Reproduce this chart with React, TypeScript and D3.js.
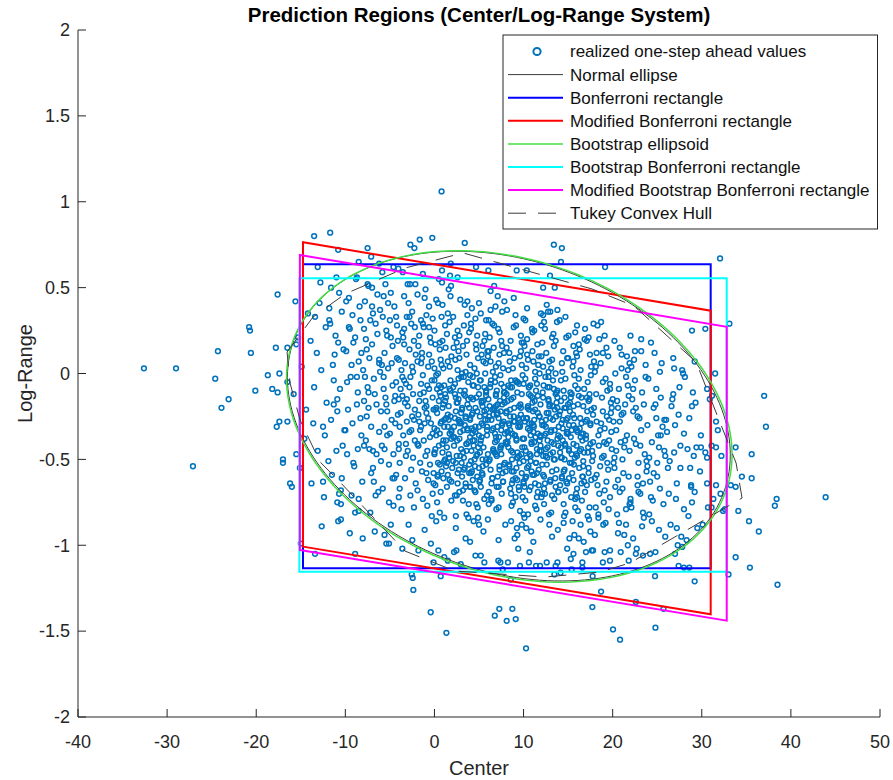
import React from "react";
import * as d3 from "d3";

// ---------- realized one-step ahead values [center, log-range] ----------

// dense cloud, west part (center < 0)
const coreWest: [number, number][] = [
  [-15.3,0.21],[-14.6,-0.38],[-15.8,-0.12],[-14.2,0.35],[-15.1,-0.55],[-14.9,0.04],[-15.6,0.42],[-14.4,-0.21],
  [-13.2,0.12],[-12.5,-0.31],[-13.8,-0.64],[-12.9,0.41],[-13.5,-0.08],[-12.2,0.27],[-13.1,-0.45],[-12.7,0.02],[-13.9,0.19],[-12.4,-0.72],[-13.4,0.33],[-12.1,-0.17],[-13.6,-0.29],[-12.8,0.53],
  [-11.4,0.05],[-10.3,-0.42],[-11.8,0.38],[-10.9,-0.15],[-11.1,0.22],[-10.5,-0.68],[-11.6,-0.27],[-10.2,0.14],[-11.9,-0.51],[-10.7,0.47],[-11.3,-0.04],[-10.1,-0.33],[-11.7,0.29],[-10.8,-0.86],[-11.2,0.11],[-10.4,0.36],[-11.5,-0.59],[-10.6,-0.09],[-11.0,0.56],[-10.9,-0.22],
  [-9.4,-0.02],[-8.3,0.31],[-9.8,-0.47],[-8.7,-0.18],[-9.1,0.18],[-8.1,-0.63],[-9.6,0.44],[-8.5,0.07],[-9.2,-0.29],[-8.9,-0.81],[-9.9,0.13],[-8.2,-0.36],[-9.5,0.26],[-8.6,-0.11],[-9.0,-0.54],[-8.4,0.39],[-9.7,-0.21],[-8.8,0.55],[-9.3,-0.71],[-8.0,0.02],[-9.8,-0.05],[-8.6,-0.44],[-9.2,0.34],[-8.3,-0.26],[-9.5,-0.93],[-8.9,0.21],
  [-7.3,0.09],[-6.2,-0.34],[-7.8,0.42],[-6.7,-0.12],[-7.1,-0.58],[-6.4,0.23],[-7.6,-0.25],[-6.9,0.35],[-7.2,-0.81],[-6.1,0.01],[-7.9,-0.16],[-6.5,-0.47],[-7.4,0.51],[-6.8,-0.03],[-7.0,0.17],[-6.3,-0.69],[-7.7,-0.39],[-6.6,0.29],[-7.5,-0.08],[-6.0,-0.22],[-7.2,0.31],[-6.9,-0.55],[-7.8,-0.02],[-6.4,0.46],[-7.1,-0.31],[-6.7,-0.92],[-7.6,0.14],[-6.2,0.08],[-7.3,-0.44],[-6.5,-0.18],[-7.9,0.26],[-6.8,-0.63],[-7.4,-0.11],[-6.1,0.37],
  [-5.2,0.03],[-4.4,-0.29],[-5.8,0.33],[-4.7,-0.61],[-5.5,-0.14],[-4.1,0.19],[-5.9,-0.42],[-4.9,0.47],[-5.3,-0.22],[-4.3,-0.05],[-5.6,0.12],[-4.6,-0.77],[-5.0,-0.35],[-4.2,0.28],[-5.7,-0.09],[-4.8,0.06],[-5.1,-0.53],[-4.5,0.39],[-5.4,-0.18],[-4.0,-0.41],[-5.8,-0.67],[-4.7,0.16],[-5.2,0.41],[-4.4,-0.13],[-5.6,-0.31],[-4.9,-0.88],[-5.3,0.22],[-4.1,-0.24],[-5.9,0.05],[-4.6,-0.47],[-5.0,0.31],[-4.3,-0.59],[-5.5,0.52],[-4.8,-0.27],[-5.7,-0.02],[-4.2,0.09],[-5.1,-0.99],[-4.5,-0.16],[-5.4,0.25],[-4.0,-0.72],[-5.6,-0.44],[-4.7,-0.07],
  [-2.8,-0.08],[-3.6,0.24],[-2.2,-0.39],[-3.3,-0.17],[-2.5,0.36],[-3.9,-0.52],[-2.1,0.11],[-3.1,-0.28],[-2.7,-0.71],[-3.7,0.02],[-2.4,-0.12],[-3.4,0.45],[-3.0,-0.45],[-3.8,-0.23],[-2.3,0.19],[-3.2,-0.06],[-2.9,-0.88],[-3.5,-0.36],[-2.6,0.29],[-4.0,0.08],[-2.2,-0.21],[-3.3,-0.61],[-2.8,0.14],[-3.6,-0.13],[-2.4,-0.49],[-3.1,0.33],[-2.7,-0.02],[-3.9,-0.31],[-2.1,-0.64],[-3.4,0.17],[-3.0,-0.19],[-3.7,-0.79],[-2.5,0.04],[-3.2,-0.41],[-2.9,0.41],[-3.8,-0.09],[-2.3,-0.27],[-3.5,0.21],[-2.6,-0.56],[-4.0,-0.44],[-2.2,0.27],[-3.3,0.06],[-2.8,-0.34],[-3.6,-1.02],[-2.4,0.01],[-3.1,-0.15],[-3.0,0.52],[-3.9,-0.67],[-2.5,-0.25],[-3.4,-0.04],
  [-1.2,-0.11],[-0.4,0.18],[-1.8,-0.42],[-0.7,-0.26],[-1.5,0.31],[-0.1,-0.58],[-1.9,0.07],[-0.9,-0.19],[-1.3,-0.73],[-0.3,-0.04],[-1.6,-0.33],[-0.6,0.39],[-1.0,-0.48],[-0.2,-0.14],[-1.7,0.22],[-0.8,-0.07],[-1.1,-0.91],[-0.5,-0.37],[-1.4,0.12],[0.0,0.03],[-1.8,-0.24],[-0.7,-0.62],[-1.2,0.27],[-0.4,-0.29],[-1.6,-0.52],[-0.9,0.34],[-1.3,-0.01],[-0.1,-0.21],[-1.9,-0.68],[-0.6,0.11],[-1.0,-0.16],[-0.3,-0.83],[-1.5,-0.06],[-0.8,-0.45],[-1.1,0.44],[-0.2,-0.35],[-1.7,-0.28],[-0.5,0.21],[-1.4,-0.57],[0.0,-0.47],[-1.8,0.16],[-0.7,0.04],[-1.2,-0.39],[-0.4,-0.99],[-1.6,-0.12],[-0.9,-0.23],[-1.0,0.49],[-0.1,-0.64],[-1.5,-0.31],[-0.6,-0.09],[-1.3,0.29],[-0.3,0.07],[-1.9,-0.41],[-0.8,-0.77],[-1.1,-0.2],[-0.5,-0.53],[-1.4,0.09],[-0.2,0.32],
];

// dense cloud, central part (0 <= center < 12)
const coreCentral: [number, number][] = [
  [0.3,-0.23],[1.2,-0.5],[0.7,0.08],[1.8,-0.1],[0.1,-0.65],[1.4,0.23],[0.9,-0.41],[1.6,-0.19],[0.4,0.41],[1.1,-0.31],[0.2,-0.01],[1.9,-0.74],[0.6,0.14],[1.3,-0.14],[0.8,-0.57],[1.7,-0.35],[0.5,0.55],[1.0,0.03],[0.0,-0.46],[1.5,-0.59],[0.3,-0.09],[1.2,0.28],[0.7,-0.69],[1.8,-0.04],[0.1,0.17],[1.4,-0.43],[0.9,-0.2],[1.6,0.49],[0.4,-0.52],[1.1,-0.07],[0.2,-0.36],[1.9,0.1],[0.6,-0.81],[1.3,-0.26],[0.8,0.33],[1.7,-0.62],[0.5,-0.16],[1.0,-0.39],[0.0,0.25],[1.5,0.07],[0.3,-0.75],[1.2,-0.12],[0.7,-0.29],[1.8,0.45],[0.1,-0.21],[1.4,-0.66],[0.9,0.19],[1.6,-0.27],[0.4,0.0],[1.1,-0.84],[0.2,0.43],[1.9,-0.33],[0.6,-0.11],[1.3,-0.54],[0.8,0.05],[1.7,0.3],[0.5,-0.42],[1.0,-0.18],[0.0,-0.04],[1.5,-0.24],[0.35,-0.6],[1.25,0.15],[0.75,-0.08],[1.65,-0.49],
  [3.7,-0.18],[2.8,0.09],[3.3,-0.49],[2.2,-0.31],[3.9,0.24],[2.6,-0.64],[3.1,0.0],[2.4,-0.22],[3.6,-0.82],[2.9,-0.1],[3.8,-0.4],[2.1,0.33],[3.4,-0.55],[2.7,-0.27],[3.2,0.16],[2.3,-0.06],[3.5,-0.96],[3.0,-0.44],[4.0,0.05],[2.5,0.18],[3.7,-0.32],[2.8,-0.69],[3.3,0.28],[2.2,-0.37],[3.9,-0.58],[2.6,0.02],[3.1,-0.21],[2.4,-0.9],[3.6,0.11],[2.9,-0.34],[3.8,-0.05],[2.1,-0.51],[3.4,0.4],[2.7,-0.15],[3.2,-0.74],[2.3,0.21],[3.5,-0.25],[3.0,-0.02],[4.0,-0.66],[2.5,-0.48],[3.7,0.34],[2.8,-0.29],[3.3,-0.12],[2.2,-1.04],[3.9,-0.2],[2.6,0.25],[3.1,-0.6],[2.4,-0.14],[3.6,-0.41],[2.9,0.43],[3.8,-0.84],[2.1,-0.08],[3.4,-0.3],[2.7,0.13],[3.2,-0.46],[2.3,-0.71],[3.5,0.01],[3.0,-0.23],[4.0,-0.37],[2.5,-0.17],[3.65,0.19],[2.75,-0.56],[3.25,-0.33],[2.35,0.08],[3.85,-0.76],[2.55,-0.39],[3.45,-0.13],[2.15,0.15],[3.05,-0.52],[2.85,-0.28],
  [4.6,-0.2],[5.5,0.07],[4.1,-0.51],[5.9,-0.33],[4.8,0.22],[5.2,-0.66],[4.3,-0.02],[5.7,-0.24],[4.9,-0.84],[5.0,-0.12],[4.4,-0.42],[5.8,0.31],[4.2,-0.57],[5.3,-0.29],[4.7,0.14],[5.6,-0.08],[4.0,-0.98],[5.1,-0.46],[4.5,0.03],[5.4,0.16],[4.6,-0.34],[5.9,-0.71],[4.1,0.26],[5.2,-0.39],[4.8,-0.6],[5.7,0.0],[4.3,-0.23],[5.5,-0.92],[4.9,0.09],[5.0,-0.36],[4.4,-0.07],[5.8,-0.53],[4.2,0.38],[5.3,-0.17],[4.7,-0.76],[5.6,0.19],[4.0,-0.27],[5.1,-0.04],[4.5,-0.68],[5.4,-0.5],[4.6,0.32],[5.9,-0.31],[4.1,-0.14],[5.2,-1.06],[4.8,-0.22],[5.7,0.23],[4.3,-0.62],[5.5,-0.16],[4.9,-0.43],[5.0,0.41],[4.4,-0.86],[5.8,-0.1],[4.2,-0.32],[5.3,0.11],[4.7,-0.48],[5.6,-0.73],[4.0,-0.01],[5.1,-0.25],[4.5,-0.39],[5.4,-0.19],[4.65,0.17],[5.35,-0.58],[4.25,-0.35],[5.75,0.06],[4.85,-0.78],[5.15,-0.41],[4.35,-0.15],[5.95,0.13],[4.55,-0.54],[5.45,-0.3],[4.15,-0.45],[5.85,-0.21],[4.75,0.0],[5.05,-0.63],
  [6.4,-0.27],[7.3,-0.54],[6.9,0.04],[7.8,-0.14],[6.1,-0.69],[7.5,0.19],[6.6,-0.45],[7.1,-0.23],[6.3,0.37],[7.9,-0.35],[6.8,-0.05],[7.2,-0.78],[6.0,0.1],[7.6,-0.18],[6.5,-0.61],[7.0,-0.39],[6.7,0.51],[7.4,-0.01],[6.2,-0.5],[7.7,-0.63],[6.9,-0.13],[7.3,0.24],[6.4,-0.73],[7.8,-0.08],[6.1,0.13],[7.5,-0.47],[6.6,-0.24],[7.1,0.45],[6.3,-0.56],[7.9,-0.11],[6.8,-0.4],[7.2,0.06],[6.0,-0.85],[7.6,-0.3],[6.5,0.29],[7.0,-0.66],[6.7,-0.2],[7.4,-0.43],[6.2,0.21],[7.7,0.03],[6.95,-0.79],[7.35,-0.16],[6.45,-0.33],[7.85,0.42],[6.15,-0.25],[7.55,-0.7],[6.65,0.15],[7.05,-0.31],[6.35,-0.04],[7.95,-0.88],[6.85,0.39],[7.25,-0.37],[6.05,-0.15],[7.65,-0.58],[6.55,0.01],[7.15,0.26],[6.75,-0.46],[7.45,-0.22],[6.25,-0.08],[7.75,-0.28],[6.4,-0.64],[7.3,0.11],[6.9,-0.12],[7.8,-0.53],[6.1,0.31],[7.5,-0.06],[6.6,-0.32],[7.1,-0.6],[6.3,0.07],[7.9,-0.17],[6.8,-0.02],[7.2,-0.26],[6.0,-0.47],[7.6,0.16],[6.5,-0.21],[7.0,-0.1],
  [9.7,-0.24],[8.8,0.03],[9.2,-0.55],[8.3,-0.37],[10.0,0.18],[8.6,-0.7],[9.5,-0.06],[9.0,-0.28],[9.8,-0.88],[8.2,-0.16],[9.3,-0.46],[8.9,0.27],[9.1,-0.61],[8.5,-0.33],[9.6,0.1],[8.1,-0.12],[9.4,-1.02],[8.7,-0.5],[9.9,-0.01],[8.4,0.12],[9.2,-0.38],[8.8,-0.75],[9.7,0.22],[8.3,-0.43],[10.0,-0.64],[8.6,-0.04],[9.5,-0.27],[9.0,-0.96],[9.8,0.05],[8.2,-0.4],[9.3,-0.11],[8.9,-0.57],[9.1,0.34],[8.5,-0.21],[9.6,-0.8],[8.1,0.15],[9.4,-0.31],[8.7,-0.08],[9.9,-0.72],[8.4,-0.54],[9.15,0.28],[8.75,-0.35],[9.65,-0.18],[8.25,-1.1],[9.95,-0.26],[8.55,0.19],[9.45,-0.66],[8.95,-0.2],[9.75,-0.47],[8.15,0.37],[9.25,-0.9],[8.85,-0.14],[9.05,-0.36],[8.45,0.07],[9.55,-0.52],[8.65,-0.77],[9.35,-0.05],[8.35,-0.29],[9.85,-0.43],[8.05,-0.23],[9.7,0.13],[8.8,-0.62],[9.2,-0.39],[8.3,0.02],[10.0,-0.82],[8.6,-0.45],[9.5,-0.19],[9.0,0.09],[9.8,-0.58],[8.2,-0.34],[9.3,-0.49],[8.9,-0.25],[9.1,-0.04],[8.5,-0.67],[9.6,-0.3],[8.1,-0.41],
  [10.4,-0.26],[11.3,0.01],[10.9,-0.57],[11.8,-0.39],[10.1,0.16],[11.5,-0.72],[10.6,-0.08],[11.1,-0.3],[10.3,-0.9],[11.9,-0.18],[10.8,-0.48],[11.2,0.25],[10.0,-0.63],[11.6,-0.35],[10.5,0.08],[11.0,-0.14],[10.7,-1.04],[11.4,-0.52],[10.2,-0.03],[11.7,0.1],[10.9,-0.4],[11.3,-0.77],[10.4,0.2],[11.8,-0.45],[10.1,-0.66],[11.5,-0.06],[10.6,-0.29],[11.1,-0.98],[10.3,0.03],[11.9,-0.42],[10.8,-0.13],[11.2,-0.59],[10.0,0.32],[11.6,-0.23],[10.5,-0.82],[11.0,0.13],[10.7,-0.33],[11.4,-0.1],[10.2,-0.74],[11.7,-0.56],[10.95,0.26],[11.35,-0.37],[10.45,-0.2],[11.85,-1.12],[10.15,-0.28],[11.55,0.17],[10.65,-0.68],[11.05,-0.22],[10.35,-0.49],[11.95,0.35],[10.85,-0.92],[11.25,-0.16],[10.05,-0.38],[11.65,0.05],[10.55,-0.54],[11.45,-0.79],[10.75,-0.07],[11.15,-0.31],[10.25,-0.45],[11.75,-0.25],[10.4,0.11],[11.3,-0.64],[10.9,-0.41],[11.8,0.0],[10.1,-0.84],[11.5,-0.47],[10.6,-0.21],[11.1,0.07],[10.3,-0.6],[11.9,-0.36],[10.8,-0.51],[11.2,-0.27],[10.0,-0.06],[11.6,-0.69],
];

// densest part of the cloud
const coreInner: [number, number][] = [
  [0.6,-0.35],[2.3,-0.12],[4.1,-0.58],[5.7,-0.27],[7.4,-0.44],[9.2,-0.05],[10.8,-0.66],[12.5,-0.31],[14.3,-0.49],[16.1,-0.18],
  [1.4,-0.52],[3.0,-0.29],[4.9,-0.08],[6.5,-0.61],[8.1,-0.22],[9.9,-0.38],[11.6,-0.13],[13.2,-0.71],[15.0,-0.35],[17.3,-0.55],
  [0.2,-0.2],[1.9,-0.63],[3.6,-0.41],[5.3,-0.16],[6.9,-0.37],[8.7,-0.57],[10.3,-0.26],[12.0,-0.45],[13.8,-0.1],[15.6,-0.62],
  [0.9,-0.46],[2.7,-0.03],[4.4,-0.33],[6.1,-0.51],[7.8,-0.11],[9.5,-0.68],[11.1,-0.34],[12.9,-0.19],[14.7,-0.42],[16.5,-0.29],
  [1.1,-0.27],[2.9,-0.48],[4.6,-0.69],[6.3,-0.06],[8.0,-0.4],[9.7,-0.2],[11.4,-0.52],[13.1,-0.33],[14.9,-0.64],[16.8,-0.09],
  [0.4,-0.59],[2.1,-0.37],[3.8,-0.15],[5.5,-0.43],[7.2,-0.66],[8.9,-0.28],[10.6,-0.08],[12.3,-0.6],[14.0,-0.24],[15.9,-0.47],
  [1.7,-0.09],[3.3,-0.56],[5.0,-0.31],[6.7,-0.21],[8.4,-0.53],[10.1,-0.43],[11.8,-0.25],[13.5,-0.5],[15.3,-0.14],[17.0,-0.38],
  [0.7,-0.13],[2.5,-0.71],[4.2,-0.24],[5.9,-0.36],[7.6,-0.29],[9.3,-0.62],[11.0,-0.17],[12.7,-0.39],[14.5,-0.57],[16.3,-0.45],
  [1.3,-0.39],[3.1,-0.2],[4.8,-0.47],[6.4,-0.74],[8.2,-0.34],[9.8,-0.12],[11.5,-0.58],[13.3,-0.27],[15.1,-0.3],[17.6,-0.21],
  [0.1,-0.44],[1.8,-0.25],[3.5,-0.64],[5.2,-0.04],[7.0,-0.48],[8.6,-0.15],[10.4,-0.55],[12.1,-0.3],[13.9,-0.69],[15.7,-0.26],
  [2.0,-0.55],[3.7,-0.33],[5.4,-0.59],[7.1,-0.18],[8.8,-0.46],[10.5,-0.32],[12.2,-0.14],[14.1,-0.37],[15.8,-0.73],[17.5,-0.3],
  [0.5,-0.07],[2.2,-0.42],[3.9,-0.53],[5.6,-0.22],[7.3,-0.56],[9.0,-0.36],[10.7,-0.47],[12.4,-0.7],[14.2,-0.16],[16.0,-0.33],
  [1.0,-0.61],[2.6,-0.17],[4.3,-0.39],[6.0,-0.27],[7.7,-0.63],[9.4,-0.26],[11.2,-0.4],[12.8,-0.23],[14.6,-0.5],[16.6,-0.6],
  [1.5,-0.31],[3.2,-0.68],[4.7,-0.14],[6.6,-0.44],[8.3,-0.07],[10.0,-0.51],[11.7,-0.65],[13.4,-0.41],[15.2,-0.22],[17.2,-0.46],
  [0.8,-0.28],[2.4,-0.52],[4.0,-0.26],[5.8,-0.5],[7.5,-0.33],[9.1,-0.72],[10.9,-0.29],[12.6,-0.53],[14.4,-0.32],[16.2,-0.13],
  [1.6,-0.47],[3.4,-0.1],[5.1,-0.62],[6.8,-0.35],[8.5,-0.25],[10.2,-0.61],[11.9,-0.37],[13.6,-0.12],[15.4,-0.52],[17.8,-0.4],
  [0.3,-0.33],[2.8,-0.38],[4.5,-0.5],[6.2,-0.19],[7.9,-0.52],[9.6,-0.31],[11.3,-0.21],[13.0,-0.62],[14.8,-0.27],[16.7,-0.51],
  [1.2,-0.16],[3.6,-0.45],[5.3,-0.37],[7.0,-0.24],[8.7,-0.64],[10.5,-0.19],[12.2,-0.48],[13.9,-0.36],[15.6,-0.41],[17.4,-0.15],
  [2.3,-0.26],[4.0,-0.66],[5.8,-0.11],[7.5,-0.42],[9.3,-0.49],[11.0,-0.59],[12.9,-0.08],[14.6,-0.2],[16.4,-0.37],[0.6,-0.53],
  [1.9,-0.34],[3.5,-0.26],[5.0,-0.55],[6.9,-0.47],[8.4,-0.3],[10.8,-0.36],[12.5,-0.44],[14.3,-0.61],[16.0,-0.48],[17.1,-0.27],
];

// broad spread across the cloud
const coreOuter: [number, number][] = [
  [-11.3,-0.18],[-9.6,0.27],[-7.9,-0.42],[-6.2,0.06],[-4.5,-0.61],[-2.8,0.33],[-1.1,-0.29],[0.6,0.18],[2.4,-0.83],[4.1,0.29],[5.8,-0.13],[7.6,0.36],[9.3,-0.94],[11.0,0.24],[12.8,-0.02],[14.5,-0.87],[16.2,0.17],[18.0,-0.61],[19.7,-0.09],[21.5,-0.79],[23.2,-0.33],[25.0,-0.6],[26.8,-0.12],[28.5,-0.83],
  [-10.4,-0.61],[-8.7,-0.02],[-7.0,0.39],[-5.3,-0.36],[-3.6,-0.02],[-1.9,0.46],[-0.2,-0.7],[1.5,0.35],[3.3,-0.02],[5.0,-0.88],[6.7,0.28],[8.5,-0.08],[10.2,0.31],[11.9,-0.85],[13.6,0.19],[15.4,-0.47],[17.1,-0.14],[18.9,0.12],[20.6,-0.93],[22.3,-0.22],[24.1,-0.49],[25.9,-0.95],[27.6,-0.55],
  [-11.8,0.31],[-10.0,-0.33],[-8.2,0.12],[-6.6,-0.71],[-4.9,0.21],[-3.2,-0.48],[-1.5,0.06],[0.2,-0.86],[1.9,-0.38],[3.7,0.42],[5.4,-0.54],[7.2,-0.97],[8.9,0.44],[10.6,-0.12],[12.3,0.3],[14.1,-0.65],[15.8,0.24],[17.5,-0.92],[19.3,-0.41],[21.0,0.11],[22.8,-0.65],[24.6,-0.2],[26.3,-0.7],[28.0,-0.35],
  [-9.1,-0.52],[-7.4,-0.2],[-5.7,0.45],[-4.0,-0.15],[-2.3,-0.78],[-0.6,0.27],[1.1,-0.51],[2.8,0.22],[4.6,-0.31],[6.3,0.48],[8.0,-0.57],[9.8,0.18],[11.5,-0.44],[13.2,-0.95],[14.9,0.09],[16.7,-0.35],[18.4,-0.84],[20.2,0.19],[21.9,-0.45],[23.7,0.05],[25.4,-0.36],[27.2,-0.9],[29.0,-0.11],
  [-12.3,-0.36],[-10.8,0.18],[-9.9,0.42],[-8.5,-0.8],[-6.9,-0.45],[-5.1,-0.75],[-3.4,0.26],[-1.7,-0.16],[0.0,-0.32],[1.7,0.04],[3.5,-0.66],[5.2,0.35],[6.9,-0.19],[8.6,-0.86],[10.4,0.38],[12.1,-0.7],[13.8,0.37],[15.6,-0.19],[17.3,0.21],[19.1,-0.68],[20.8,-0.28],[22.5,0.13],[24.3,-0.72],[26.0,-0.27],[27.8,0.02],
  [-11.0,-0.45],[-9.3,0.05],[-7.7,0.2],[-6.0,-0.51],[-4.3,0.33],[-2.6,-0.33],[-0.9,-0.58],[0.9,0.4],[2.6,-0.58],[4.3,-0.07],[6.1,-0.76],[7.8,0.12],[9.5,-0.48],[11.3,-0.03],[13.0,-0.47],[14.7,0.33],[16.5,-0.64],[18.2,-0.28],[20.0,-0.15],[21.7,0.02],[23.4,-0.81],[25.2,-0.43],[26.9,0.03],[28.7,-0.55],
];

// dense cloud, east part (center >= 12)
const coreEast: [number, number][] = [
  [12.3,-0.3],[13.2,-0.57],[12.8,0.01],[13.7,-0.17],[12.0,-0.72],[13.4,0.16],[12.5,-0.48],[13.0,-0.26],[12.2,0.34],[13.8,-0.38],[12.7,-0.08],[13.1,-0.81],[12.9,0.07],[13.5,-0.21],[12.4,-0.64],[13.9,-0.42],[12.6,0.4],[13.3,-0.04],[12.1,-0.53],[13.6,-0.66],[12.8,-0.16],[13.2,0.21],[12.3,-0.76],[13.7,-0.11],[12.0,0.1],[13.4,-0.5],[12.5,-0.27],[13.0,0.36],[12.2,-0.59],[13.8,-0.14],[12.7,-0.43],[13.1,0.03],[12.9,-0.88],[13.5,-0.33],[12.4,0.26],[13.9,-0.69],[12.6,-0.23],[13.3,-0.46],[12.1,0.18],[13.6,0.0],[12.85,-0.82],[13.25,-0.19],[12.35,-0.36],[13.75,0.3],[12.05,-0.28],[13.45,-0.73],[12.55,0.12],[13.05,-0.34],[12.25,-0.07],[13.85,-0.91],[12.75,0.36],[13.15,-0.4],[12.95,-0.18],[13.55,-0.61],[12.45,-0.02],[13.35,0.23],[12.65,-0.49],[13.65,-0.25],[12.15,-0.11],[13.95,-0.31],[12.3,-0.67],[13.2,0.08],[12.8,-0.15],[13.7,-0.56],[12.0,0.28],[13.4,-0.09],[12.5,-0.35],[13.0,-0.63],[12.2,0.04],[13.8,-0.2],
  [15.6,-0.3],[14.7,-0.03],[15.1,-0.61],[14.2,-0.43],[15.9,0.12],[14.5,-0.76],[15.4,-0.12],[14.9,-0.34],[15.7,-0.94],[14.1,-0.22],[15.2,-0.52],[14.8,0.21],[16.0,-0.67],[14.4,-0.39],[15.5,0.04],[15.0,-0.18],[15.3,-1.08],[14.6,-0.56],[15.8,-0.07],[14.3,0.06],[15.1,-0.44],[14.7,-0.81],[15.6,0.16],[14.2,-0.49],[15.9,-0.7],[14.5,-0.1],[15.4,-0.33],[14.9,-1.02],[15.7,-0.01],[14.1,-0.46],[15.2,-0.17],[14.8,-0.63],[16.0,0.28],[14.4,-0.27],[15.5,-0.86],[15.0,0.09],[15.3,-0.37],[14.6,-0.14],[15.8,-0.78],[14.3,-0.6],[15.05,0.22],[14.65,-0.41],[15.55,-0.24],[14.15,-1.16],[15.85,-0.32],[14.45,0.13],[15.35,-0.72],[14.95,-0.26],[15.65,-0.53],[14.05,0.31],[15.15,-0.96],[14.75,-0.2],[15.95,-0.42],[14.35,0.01],[15.45,-0.58],[14.55,-0.83],[15.25,-0.11],[14.85,-0.35],[15.75,-0.49],[14.25,-0.29],[15.6,0.07],[14.7,-0.68],[15.1,-0.45],[14.2,-0.04],
  [16.3,-0.32],[17.2,-0.05],[16.8,-0.63],[17.7,-0.45],[16.0,0.1],[17.4,-0.78],[16.5,-0.14],[17.0,-0.36],[16.2,-0.96],[17.8,-0.24],[16.7,-0.54],[17.1,0.19],[16.9,-0.69],[17.5,-0.41],[16.4,0.02],[17.9,-0.2],[16.6,-1.1],[17.3,-0.58],[16.1,-0.09],[17.6,0.04],[16.8,-0.46],[17.2,-0.83],[16.3,0.14],[17.7,-0.51],[16.0,-0.72],[17.4,-0.12],[16.5,-0.35],[17.0,-1.04],[16.2,-0.03],[17.8,-0.48],[16.7,-0.19],[17.1,-0.65],[16.9,0.26],[17.5,-0.29],[16.4,-0.88],[17.9,0.07],[16.6,-0.39],[17.3,-0.16],[16.1,-0.8],[17.6,-0.62],[16.85,0.2],[17.25,-0.43],[16.35,-0.26],[17.75,-1.18],[16.05,-0.34],[17.45,0.11],[16.55,-0.74],[16.95,-0.28],[16.25,-0.55],[17.85,0.29],[16.75,-0.98],[17.15,-0.22],[16.45,-0.44],[17.55,-0.01],[16.65,-0.6],[17.35,-0.85],
  [18.4,-0.36],[19.3,-0.63],[18.9,-0.05],[19.8,-0.23],[18.1,-0.78],[19.5,0.1],[18.6,-0.54],[19.1,-0.32],[18.3,0.28],[19.9,-0.44],[18.8,-0.14],[19.2,-0.87],[18.0,0.01],[19.6,-0.27],[18.5,-0.7],[19.0,-0.48],[18.7,0.3],[19.4,-0.1],[18.2,-0.59],[19.7,-0.72],[18.9,-0.22],[19.3,0.15],[18.4,-0.82],[19.8,-0.17],[18.1,0.04],[19.5,-0.56],[18.6,-0.33],[19.1,0.22],[18.3,-0.65],[19.9,-0.2],[18.8,-0.49],[19.2,-0.03],[18.0,-0.94],[19.6,-0.39],[18.5,0.2],[19.0,-0.75],[18.7,-0.29],[19.4,-0.52],[18.2,0.12],[19.7,-0.06],[18.95,-0.88],[19.35,-0.25],[18.45,-0.42],[19.85,-0.34],[18.15,-0.12],[19.55,-0.79],[18.65,0.06],[19.05,-0.4],
  [21.6,-0.36],[20.7,-0.09],[21.1,-0.67],[20.2,-0.49],[21.9,0.06],[20.5,-0.82],[21.4,-0.18],[20.9,-0.4],[21.7,-1.0],[20.1,-0.28],[21.2,-0.58],[20.8,0.15],[22.0,-0.73],[20.4,-0.45],[21.5,-0.02],[21.0,-0.24],[21.3,-0.94],[20.6,-0.62],[21.8,-0.13],[20.3,0.0],[21.1,-0.5],[20.7,-0.87],[21.6,0.1],[20.2,-0.55],[21.9,-0.76],[20.5,-0.16],[21.4,-0.39],[20.9,-1.04],[21.7,-0.07],[20.1,-0.52],[21.2,-0.23],[20.8,-0.69],[22.0,0.22],[20.4,-0.33],[21.5,-0.88],[21.0,0.03],[21.3,-0.43],[20.6,-0.2],[21.8,-0.6],[20.3,-0.66],
  [22.4,-0.38],[23.3,-0.11],[22.9,-0.69],[23.8,-0.51],[22.1,0.04],[23.5,-0.84],[22.6,-0.2],[23.1,-0.42],[22.3,-0.96],[23.9,-0.3],[22.8,-0.6],[23.2,0.13],[22.0,-0.75],[23.6,-0.47],[22.5,-0.04],[23.0,-0.26],[22.7,-1.02],[23.4,-0.64],[22.2,-0.15],[23.7,-0.02],[22.9,-0.52],[23.3,-0.89],[22.4,0.08],[23.8,-0.57],[22.1,-0.78],[23.5,-0.18],[22.6,-0.41],[23.1,-0.7],[22.3,-0.09],[23.9,-0.54],[22.8,-0.25],[23.2,0.2],
  [24.4,-0.4],[25.3,-0.67],[24.9,-0.09],[25.8,-0.27],[24.1,-0.82],[25.5,0.06],[24.6,-0.58],[25.1,-0.36],[24.3,0.18],[25.9,-0.48],[24.8,-0.18],[25.2,-0.91],[24.0,-0.03],[25.6,-0.31],[24.5,-0.74],[25.0,-0.52],[24.7,0.12],[25.4,-0.14],[24.2,-0.63],[25.7,-0.76],[24.9,-0.26],[25.3,0.01],[24.4,-0.86],[25.8,-0.45],
  [27.6,-0.42],[26.7,-0.15],[27.1,-0.73],[26.2,-0.55],[27.9,0.0],[26.5,-0.88],[27.4,-0.24],[26.9,-0.46],[27.7,-0.95],[26.1,-0.34],[27.2,-0.64],[26.8,0.09],[28.0,-0.79],[26.4,-0.51],[27.5,-0.08],[27.0,-0.3],[27.3,-1.0],[26.6,-0.19],
  [28.4,-0.44],[29.3,-0.17],[28.9,-0.75],[29.8,-0.57],[28.1,-0.02],[29.5,-0.9],[28.6,-0.26],[29.1,-0.48],[28.3,-0.97],[29.9,-0.36],[28.8,-0.66],[29.2,0.07],
  [30.4,-0.46],[31.3,-0.73],[30.9,-0.15],[31.8,-0.33],[30.1,-0.88],[31.5,0.0],[30.6,-0.64],[31.1,-0.42],
];

// scattered values west of the cloud
const tailWest: [number, number][] = [
  [-32.6,0.03],[-29.0,0.03],[-24.3,0.13],[-20.8,0.27],[-20.7,0.25],[-20.6,0.12],[-17.8,0.15],[-16.5,0.15],
  [-24.6,-0.03],[-23.1,-0.15],[-23.9,-0.2],[-20.1,-0.1],[-18.7,-0.01],[-17.4,0.0],[-18.2,-0.09],[-17.6,-0.11],
  [-16.5,-0.05],[-17.4,-0.28],[-16.5,-0.28],[-17.7,-0.31],[-15.5,-0.47],[-17.0,-0.5],[-17.0,-0.52],[-27.1,-0.54],
  [-16.2,-0.64],[-16.0,-0.66],[-15.5,0.17],[-17.6,0.46],
  [-12.65,-0.89],[-10.5,-0.85],[-10.7,-0.7],[-10.9,-0.75],[-10.5,-0.76],[-8.5,-0.73],[-15.0,-0.99],[-12.5,-0.63],
];

// scattered values above the cloud
const tailNorth: [number, number][] = [
  [0.8,1.06],[-13.5,0.8],[-11.7,0.82],[-10.8,0.72],[-7.5,0.73],[-7.1,0.68],[-8.5,0.65],[-13.1,0.62],
  [-2.7,0.75],[-2.25,0.73],[-1.65,0.78],[-0.24,0.79],[3.4,0.76],[13.4,0.75],[14.3,0.73],[14.2,0.65],
  [19.15,0.62],[32.05,0.67],[-4.6,0.62],[-4.05,0.61],[-5.85,0.59],[-8.7,0.56],[-6.2,0.64],[-3.55,0.59],
  [-1.3,0.58],[0.85,0.6],[1.83,0.64],[1.75,0.57],[2.6,0.56],[4.67,0.62],[6.05,0.6],[9.23,0.6],
  [10.36,0.6],[12.97,0.57],[-2.74,0.52],[-2.14,0.52],[0.85,0.53],[1.86,0.51],[-11.6,0.5],[-7.0,0.5],
  [-7.5,0.52],[12.2,0.5],[13.5,0.5],
];

// scattered values below the cloud
const tailSouth: [number, number][] = [
  [-8.05,-0.96],[-5.6,-0.94],[-5.4,-0.99],[-2.48,-0.97],[-8.9,-1.05],[-13.4,-1.05],[-2.55,-1.17],[-2.44,-1.19],
  [-2.37,-1.26],[0.7,-1.18],[-0.42,-1.39],[1.34,-1.51],[7.28,-1.37],[8.74,-1.37],[6.77,-1.41],[8.11,-1.44],
  [9.12,-1.43],[10.28,-1.6],[18.7,-1.27],[17.72,-1.36],[22.6,-1.33],[20.04,-1.49],[20.83,-1.55],[24.8,-1.48],
  [29.2,-1.21],[24.75,-1.18],[25.7,-1.37],[27.4,-1.12],[28.0,-1.13],[28.6,-1.13],[33.8,-1.07],[35.4,-1.13],
  [33.0,-1.17],[27.0,-1.05],[27.8,-1.01],[22.6,-1.05],[23.4,-1.06],[24.2,-1.05],[24.8,-1.04],[17.8,-1.03],
  [19.1,-1.04],[19.7,-1.03],[19.7,-1.09],[18.9,-1.1],[21.8,-1.09],[16.6,-1.13],[15.4,-1.14],[9.6,-1.12],
  [10.6,-1.1],[11.4,-1.12],[12.6,-1.1],[13.6,-1.12],[13.8,-1.1],[7.66,-1.14],[7.4,-1.1],[7.17,-1.09],
  [5.6,-1.1],[4.6,-1.06],[2.95,-1.11],[1.5,-1.09],[1.1,-1.07],[-0.1,-1.1],[0.44,-1.03],[2.46,-1.03],
  [-1.8,-1.03],[15.6,-1.05],[17.65,-1.03],[8.56,-1.2],[13.46,-1.17],
];

// scattered values east of the cloud
const tailEast: [number, number][] = [
  [33.1,0.29],[28.9,0.25],[30.4,0.26],[37.0,-0.13],[37.2,-0.31],[35.6,-0.47],[33.8,-0.43],[35.6,-0.61],
  [34.5,-0.6],[33.8,-0.66],[33.25,-0.65],[38.4,-0.73],[38.2,-0.77],[43.9,-0.72],[34.1,-0.8],[32.4,-0.8],
  [35.3,-0.86],[36.4,-0.92],[38.5,-1.23],[32.2,-0.48],[31.6,-0.43],[29.4,-0.43],[29.9,-0.43],[30.6,-0.49],
  [31.6,-0.65],[29.2,-0.69],[28.8,-0.65],[32.1,-0.7],[30.7,-0.78],[31.1,-0.78],[32.6,-0.79],[31.6,-0.28],
  [28.9,-0.19],[31.15,-0.13],[30.6,-0.09],
];

// ---------- prediction regions ----------

// ellipses: center, horizontal / vertical half-extent, correlation
const normalEllipse = { cx: 8.35, cy: -0.248, rx: 24.85, ry: 0.96, rho: -0.235 };
const bootstrapEllipse = { cx: 8.4, cy: -0.25, rx: 25.0, ry: 0.965, rho: -0.23 };

const bonferroniRect: [number, number][] = [[-14.75, -1.134], [31.0, -1.134], [31.0, 0.636], [-14.75, 0.636]];
const modifiedBonferroni: [number, number][] = [[-14.75, -1.008], [31.0, -1.402], [31.0, 0.366], [-14.75, 0.764]];
const bootstrapBonferroniRect: [number, number][] = [[-15.16, -1.154], [32.8, -1.154], [32.8, 0.554], [-15.16, 0.554]];
const modifiedBootstrapBonferroni: [number, number][] = [[-15.1, -1.028], [32.8, -1.439], [32.8, 0.272], [-15.1, 0.69]];

const tukeyHull: [number, number][] = [
  [-16.54, 0.125], [-13.62, 0.329], [-10.03, 0.463], [-3.3, 0.614], [3.21, 0.702], [17.69, 0.492],
  [22.4, 0.393], [29.36, 0.067], [33.85, -0.521], [34.52, -0.725], [21.95, -1.103], [18.58, -1.156],
  [12.41, -1.185], [2.31, -1.15], [1.19, -1.127], [-3.3, -1.034], [-10.93, -0.614], [-12.84, -0.515],
  [-15.08, -0.271], [-16.21, -0.055],
];

// ---------- axes & text ----------
const xTicks = [-40, -30, -20, -10, 0, 10, 20, 30, 40, 50];
const yTicks = [-2, -1.5, -1, -0.5, 0, 0.5, 1, 1.5, 2];
const legendLabels = [
  "realized one-step ahead values",
  "Normal ellipse",
  "Bonferroni rectangle",
  "Modified Bonferroni rectangle",
  "Bootstrap ellipsoid",
  "Bootstrap Bonferroni rectangle",
  "Modified Bootstrap Bonferroni rectangle",
  "Tukey Convex Hull",
];

const W = 893;
const H = 780;
const plot = { left: 78, right: 880, top: 30, bottom: 717 };
const FONT = "'Liberation Sans', Arial, Helvetica, sans-serif";
const AXIS = "#262626";
const DOT = "#0072BD";

const styles = {
  normal: { stroke: "#3c3c3c", width: 1, dash: undefined as string | undefined },
  bonf: { stroke: "#0000ff", width: 2, dash: undefined },
  modBonf: { stroke: "#ff0000", width: 2, dash: undefined },
  boot: { stroke: "#44dd44", width: 1.5, dash: undefined },
  bootBonf: { stroke: "#00ffff", width: 2, dash: undefined },
  modBootBonf: { stroke: "#ff00ff", width: 2, dash: undefined },
  hull: { stroke: "#3c3c3c", width: 1, dash: "18,12" },
};

function ellipsePath(e: { cx: number; cy: number; rx: number; ry: number; rho: number }): [number, number][] {
  const k = Math.sqrt(1 - e.rho * e.rho);
  return d3.range(0, 361, 2).map((deg) => {
    const t = (deg * Math.PI) / 180;
    return [e.cx + e.rx * Math.cos(t), e.cy + e.ry * (e.rho * Math.cos(t) + k * Math.sin(t))] as [number, number];
  });
}

export default function App() {
  const x = d3.scaleLinear().domain([-40, 50]).range([plot.left, plot.right]);
  const y = d3.scaleLinear().domain([-2, 2]).range([plot.bottom, plot.top]);
  const line = d3.line<[number, number]>().x((d) => x(d[0])).y((d) => y(d[1]));
  const closed = (pts: [number, number][]) => line(pts) + "Z";

  const points = [...coreWest, ...coreCentral, ...coreInner, ...coreOuter, ...coreEast, ...tailWest, ...tailNorth, ...tailSouth, ...tailEast];

  const regions = [
    { d: line(ellipsePath(normalEllipse)) || "", s: styles.normal },
    { d: closed(bonferroniRect), s: styles.bonf },
    { d: closed(modifiedBonferroni), s: styles.modBonf },
    { d: line(ellipsePath(bootstrapEllipse)) || "", s: styles.boot },
    { d: closed(bootstrapBonferroniRect), s: styles.bootBonf },
    { d: closed(modifiedBootstrapBonferroni), s: styles.modBootBonf },
    { d: closed(tukeyHull), s: styles.hull },
  ];

  const legendStyles = [null, styles.normal, styles.bonf, styles.modBonf, styles.boot, styles.bootBonf, styles.modBootBonf, styles.hull];
  const lg = { x: 503, y: 35, w: 374.5, h: 194, row0: 51.5, step: 23.1 };

  return (
    <svg width={W} height={H} style={{ position: "absolute", left: 0, top: 0, background: "#fff" }} fontFamily={FONT}>
      <rect width={W} height={H} fill="#fff" />

      {/* scatter */}
      <g fill="none" stroke={DOT} strokeWidth={1.5}>
        {points.map((p, i) => (
          <circle key={i} cx={x(p[0])} cy={y(p[1])} r={2.4} />
        ))}
      </g>

      {/* regions */}
      <g fill="none">
        {regions.map((r, i) => (
          <path key={i} d={r.d} stroke={r.s.stroke} strokeWidth={r.s.width} strokeDasharray={r.s.dash} strokeLinejoin="miter" />
        ))}
      </g>

      {/* axes */}
      <g stroke={AXIS} strokeWidth={1} fill="none">
        <line x1={plot.left} y1={plot.top} x2={plot.left} y2={plot.bottom} />
        <line x1={plot.left} y1={plot.bottom} x2={plot.right} y2={plot.bottom} />
        {xTicks.map((t) => (
          <line key={"xt" + t} x1={x(t)} x2={x(t)} y1={plot.bottom} y2={plot.bottom - 8} />
        ))}
        {yTicks.map((t) => (
          <line key={"yt" + t} x1={plot.left} x2={plot.left + 8} y1={y(t)} y2={y(t)} />
        ))}
      </g>
      <g fill={AXIS} fontSize={18}>
        {xTicks.map((t) => (
          <text key={"xl" + t} x={x(t)} y={plot.bottom + 31} textAnchor="middle">{String(t)}</text>
        ))}
        {yTicks.map((t) => (
          <text key={"yl" + t} x={plot.left - 8} y={y(t)} dy="0.35em" textAnchor="end">{String(t)}</text>
        ))}
      </g>
      <text x={(plot.left + plot.right) / 2} y={775} textAnchor="middle" fontSize={20} fill={AXIS}>Center</text>
      <text transform={`translate(32,${(plot.top + plot.bottom) / 2}) rotate(-90)`} textAnchor="middle" fontSize={20} fill={AXIS}>Log-Range</text>
      <text x={(plot.left + plot.right) / 2} y={22} textAnchor="middle" fontSize={20.5} fontWeight="bold" fill="#000">
        Prediction Regions (Center/Log-Range System)
      </text>

      {/* legend */}
      <g>
        <rect x={lg.x} y={lg.y} width={lg.w} height={lg.h} fill="#fff" stroke={AXIS} strokeWidth={1} />
        {legendLabels.map((label, i) => {
          const cy = lg.row0 + lg.step * i;
          const s = legendStyles[i];
          return (
            <g key={label}>
              {s ? (
                <line x1={508} x2={563} y1={cy} y2={cy} stroke={s.stroke} strokeWidth={s.width} strokeDasharray={s.dash} />
              ) : (
                <circle cx={537} cy={cy} r={3.6} fill="none" stroke={DOT} strokeWidth={2} />
              )}
              <text x={570} y={cy} dy="0.35em" fontSize={17} fill="#111">{label}</text>
            </g>
          );
        })}
      </g>
    </svg>
  );
}
